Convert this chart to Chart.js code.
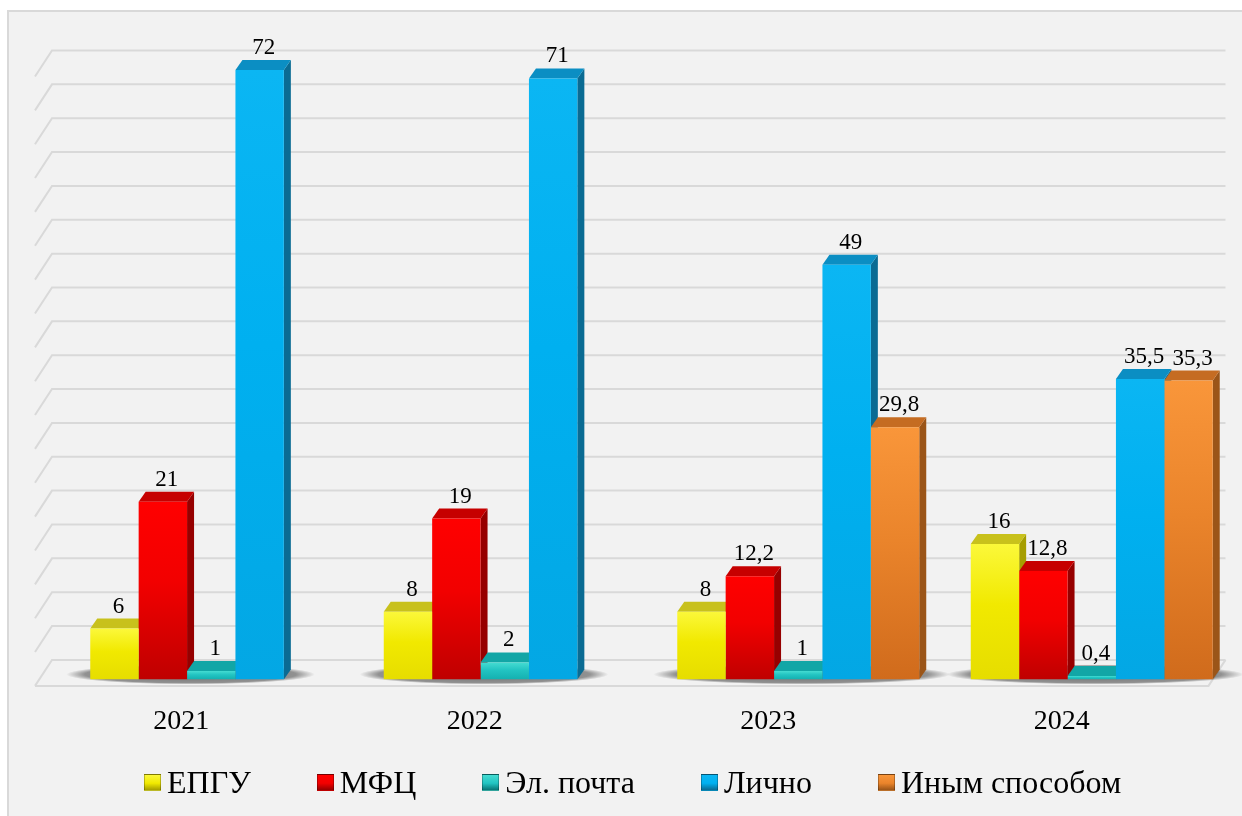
<!DOCTYPE html>
<html lang="ru">
<head>
<meta charset="utf-8">
<title>Способы подачи обращений</title>
<script src="https://cdn.jsdelivr.net/npm/chart.js@4.4.1/dist/chart.umd.min.js"></script>
<style>
  html, body { margin: 0; padding: 0; background: #fff; }
  body { width: 1242px; height: 816px; position: relative; overflow: hidden;
         font-family: "Liberation Serif", "Times New Roman", serif; }
  #panel { position: absolute; left: 7px; top: 10px; width: 1240px; height: 812px;
           background: #f2f2f2; border-left: 2px solid #d9d9d9; border-top: 2px solid #d9d9d9; }
  #grafik { position: absolute; left: 0; top: 0; }
  #legend { position: absolute; left: 144px; top: 763px; display: flex; align-items: center; gap: 66px; }
  .lg-item { display: flex; align-items: center; font-size: 32px; color: #000; line-height: 38px; }
  .lg-box { width: 15px; height: 15px; margin-right: 6px; border: 1px solid rgba(0,0,0,0.25); }
</style>
</head>
<body>
<div id="panel"></div>
<canvas id="grafik" width="1242" height="816"></canvas>
<div id="legend"></div>

<script>
/* grafik batang 3D: cara pengajuan per tahun */

var kategori   = ['2021', '2022', '2023', '2024'];
var namaSeri   = ['ЕПГУ', 'МФЦ', 'Эл. почта', 'Лично', 'Иным способом'];
var dataEpgu   = [6, 8, 8, 16];
var dataMfc    = [21, 19, 12.2, 12.8];
var dataPochta = [1, 2, 1, 0.4];
var dataLichno = [72, 71, 49, 35.5];
var dataInym   = [null, null, 29.8, 35.3];

var yMax  = 72;
var yStep = 4;

// warna: depan (atas -> bawah), muka atas, sisi kanan
var warna = [
  { depan: ['#fbf83a', '#f1e900', '#e6dd00'], atas: '#c8c11c', sisi: '#a69e00' },
  { depan: ['#ff0000', '#f20000', '#bf0000'], atas: '#c60000', sisi: '#960000' },
  { depan: ['#45dcd2', '#22c4c2', '#14b0b0'], atas: '#12a6a6', sisi: '#087676' },
  { depan: ['#0bb6f3', '#00b0f0', '#03a7e4'], atas: '#0b8ec3', sisi: '#0a6b93' },
  { depan: ['#f9963a', '#ea842b', '#d06b1c'], atas: '#c56c22', sisi: '#9b5518' },
];

var DX = 7, DY = 10;          // kedalaman batang
var WALL_DX = 17;             // kedalaman dinding / lantai

function warnaDepan(i) {
  return function(c) {
    var chart = c.chart;
    if (!chart.chartArea || c.raw === null || c.raw === undefined) return warna[i].depan[1];
    var ys = chart.scales.y;
    var top = ys.getPixelForValue(c.raw), base = ys.getPixelForValue(0);
    if (base - top < 1) return warna[i].depan[1];
    var g = chart.ctx.createLinearGradient(0, top, 0, base);
    g.addColorStop(0, warna[i].depan[0]);
    g.addColorStop(0.45, warna[i].depan[1]);
    g.addColorStop(1, warna[i].depan[2]);
    return g;
  };
}

function formatAngka(v) {
  return String(v).replace('.', ',');
}

function batangKategori(chart, j) {
  var hasil = [];
  chart.data.datasets.forEach(function(ds, i) {
    var v = ds.data[j];
    if (v === null || v === undefined) return;
    var el = chart.getDatasetMeta(i).data[j];
    hasil.push({ i: i, v: v, el: el.getProps(['x', 'y', 'base', 'width'], true) });
  });
  return hasil;
}

var plugin3d = {
  id: 'bar3d',
  beforeDatasetsDraw: function(chart) {
    var ctx = chart.ctx, ys = chart.scales.y, area = chart.chartArea;
    var fl = area.left - 29.5, fr = area.right - 30;

    // garis grid dinding belakang
    ctx.save();
    ctx.strokeStyle = '#d9d9d9';
    ctx.lineWidth = 2;
    for (var v = 0; v <= yMax; v += yStep) {
      var p = ys.getPixelForValue(v);
      ctx.beginPath();
      ctx.moveTo(fl, p + 6.5);
      ctx.lineTo(fl + WALL_DX, p - 19.5);
      ctx.lineTo(fr + WALL_DX, p - 19.5);
      ctx.stroke();
    }
    var p0 = ys.getPixelForValue(0);
    ctx.beginPath();
    ctx.moveTo(fl, p0 + 6.5);
    ctx.lineTo(fr, p0 + 6.5);
    ctx.lineTo(fr + WALL_DX, p0 - 19.5);
    ctx.stroke();
    ctx.restore();

    // bayangan di lantai
    kategori.forEach(function(k, j) {
      var bs = batangKategori(chart, j);
      if (!bs.length) return;
      var l = bs[0].el.x - bs[0].el.width / 2 - 24;
      var last = bs[bs.length - 1].el;
      var r = last.x + last.width / 2 + DX + 24;
      var cx = (l + r) / 2, hw = (r - l) / 2;
      ctx.save();
      ctx.translate(cx, p0 - 5);
      ctx.scale(1, 10 / hw);
      var g = ctx.createRadialGradient(0, 0, 0, 0, 0, hw);
      g.addColorStop(0, 'rgba(0,0,0,0.55)');
      g.addColorStop(0.85, 'rgba(0,0,0,0.4)');
      g.addColorStop(1, 'rgba(0,0,0,0)');
      ctx.fillStyle = g;
      ctx.beginPath();
      ctx.arc(0, 0, hw, 0, Math.PI * 2);
      ctx.fill();
      ctx.restore();
    });

    // sisi kanan lalu muka atas
    ctx.save();
    kategori.forEach(function(k, j) {
      batangKategori(chart, j).forEach(function(b) {
        var r = b.el.x + b.el.width / 2;
        ctx.fillStyle = warna[b.i].sisi;
        ctx.beginPath();
        ctx.moveTo(r, b.el.y);
        ctx.lineTo(r + DX, b.el.y - DY);
        ctx.lineTo(r + DX, b.el.base - DY);
        ctx.lineTo(r, b.el.base);
        ctx.closePath();
        ctx.fill();
      });
    });
    kategori.forEach(function(k, j) {
      batangKategori(chart, j).forEach(function(b) {
        var l = b.el.x - b.el.width / 2, r = b.el.x + b.el.width / 2;
        ctx.fillStyle = warna[b.i].atas;
        ctx.beginPath();
        ctx.moveTo(l, b.el.y);
        ctx.lineTo(l + DX, b.el.y - DY);
        ctx.lineTo(r + DX, b.el.y - DY);
        ctx.lineTo(r, b.el.y);
        ctx.closePath();
        ctx.fill();
      });
    });
    ctx.restore();
  },
  afterDatasetsDraw: function(chart) {
    var ctx = chart.ctx;
    ctx.save();
    ctx.font = '23px "Liberation Serif", "Times New Roman", serif';
    ctx.fillStyle = '#000';
    ctx.textAlign = 'center';
    ctx.textBaseline = 'alphabetic';
    kategori.forEach(function(k, j) {
      batangKategori(chart, j).forEach(function(b) {
        ctx.fillText(formatAngka(b.v), b.el.x + 4, b.el.y - DY - 6);
      });
    });
    ctx.restore();
  }
};

var semuaData = [dataEpgu, dataMfc, dataPochta, dataLichno, dataInym];

var chartCara = new Chart(document.getElementById('grafik'), {
  type: 'bar',
  data: {
    labels: kategori,
    datasets: semuaData.map(function(d, i) {
      return {
        label: namaSeri[i],
        data: d,
        backgroundColor: warnaDepan(i),
        borderWidth: 0,
        barPercentage: 1,
        categoryPercentage: 0.8245,
        inflateAmount: 0,
      };
    }),
  },
  options: {
    responsive: false,
    animation: false,
    devicePixelRatio: 1,
    layout: { padding: { left: 64.5, right: 3.5, top: 70, bottom: 53 } },
    plugins: {
      legend: { display: false },
      tooltip: { enabled: false },
    },
    scales: {
      x: {
        grid: { display: false, drawTicks: false },
        border: { display: false },
        ticks: {
          color: '#000',
          padding: 25,
          labelOffset: -30,
          font: { family: '"Liberation Serif", "Times New Roman", serif', size: 28 },
        },
      },
      y: { display: false, min: 0, max: yMax },
    },
  },
  plugins: [plugin3d],
});

// legenda HTML
var lg = document.getElementById('legend');
lg.innerHTML = namaSeri.map(function(n, i) {
  var w = warna[i];
  return '<div class="lg-item"><span class="lg-box" style="background:linear-gradient(to bottom,' +
    w.depan[0] + ' 0%,' + w.depan[1] + ' 55%,' + w.sisi + ' 100%);"></span>' + n + '</div>';
}).join('');
</script>
</body>
</html>
